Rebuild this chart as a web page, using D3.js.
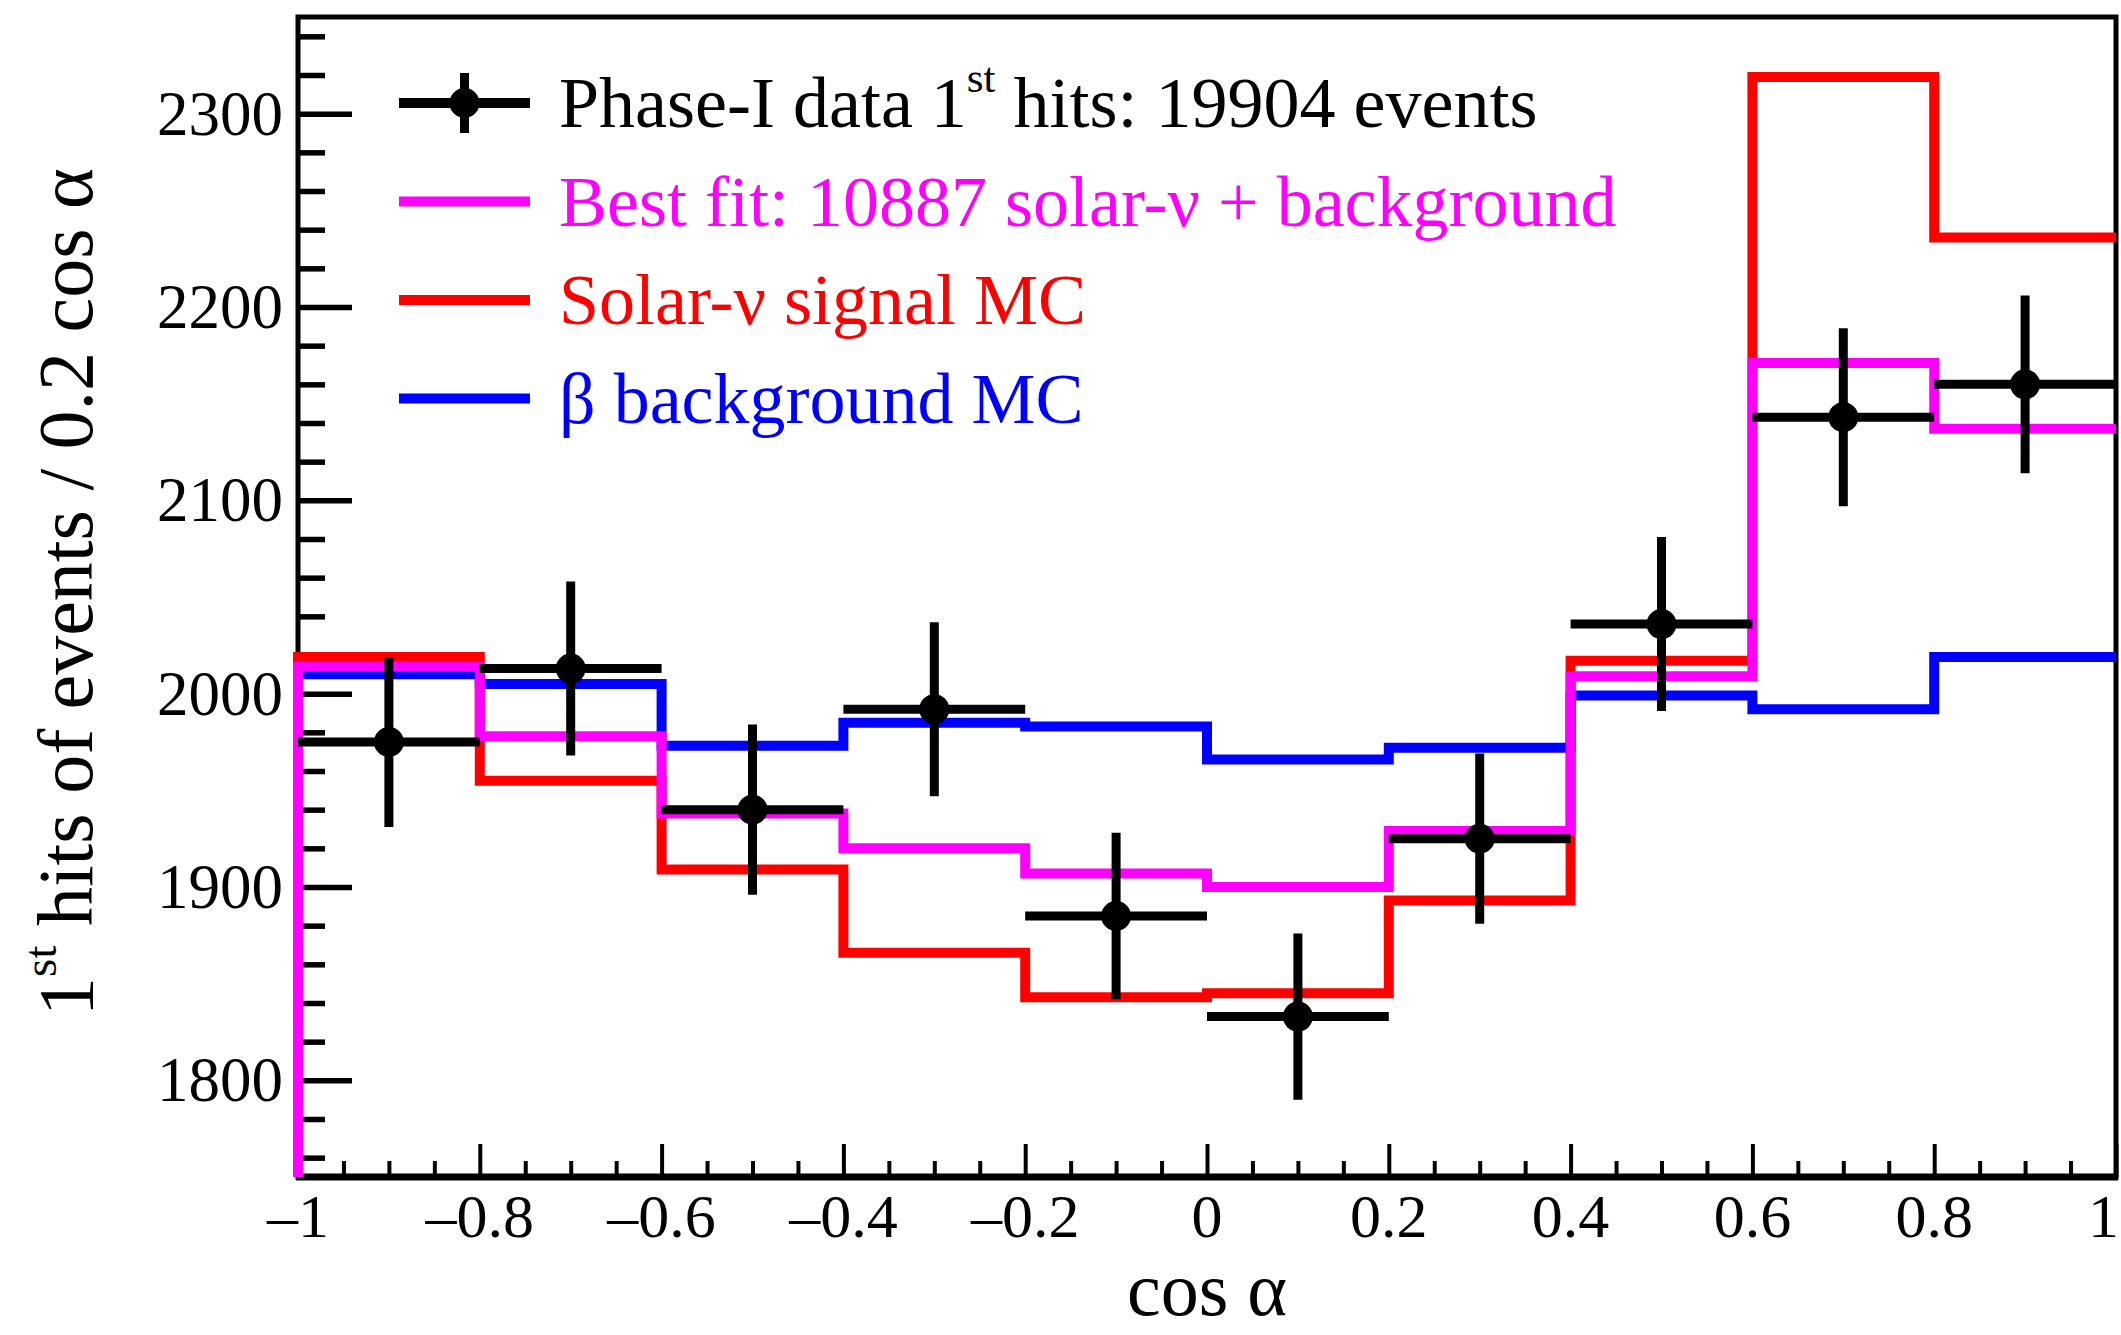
<!DOCTYPE html>
<html><head><meta charset="utf-8">
<script src="https://cdn.jsdelivr.net/npm/d3@7"></script>
<style>body{margin:0;background:#fff;} svg{display:block;} text{white-space:pre;}</style>
</head><body>
<svg id="chart" width="2121" height="1335"></svg>
<script>
// ---------- data ----------
const binEdges = [-1, -0.8, -0.6, -0.4, -0.2, 0, 0.2, 0.4, 0.6, 0.8, 1];
const binCenters = [-0.9, -0.7, -0.5, -0.3, -0.1, 0.1, 0.3, 0.5, 0.7, 0.9];
const dataCounts = [1975, 2013, 1940, 1992, 1885, 1833, 1925, 2036, 2143, 2160];
const dataErrors = [44, 45, 44, 45, 43, 43, 44, 45, 46, 46];
const bestFit = [2014, 1978, 1938, 1920, 1907, 1900, 1929, 2009, 2171, 2137];
const solarSignal = [2019, 1955, 1909, 1866, 1843, 1845, 1893, 2017, 2319, 2236];
const betaBackground = [2010, 2005, 1973, 1985, 1983, 1966, 1972, 1999, 1992, 2019];
const xMajorTicks = [-1, -0.8, -0.6, -0.4, -0.2, 0, 0.2, 0.4, 0.6, 0.8, 1];
const xTickLabels = ["\u20131", "\u20130.8", "\u20130.6", "\u20130.4", "\u20130.2", "0", "0.2", "0.4", "0.6", "0.8", "1"];
const yMajorTicks = [1800, 1900, 2000, 2100, 2200, 2300];
const yTickLabels = ["1800", "1900", "2000", "2100", "2200", "2300"];
const legendLabels = ["Best fit: 10887 solar-\u03bd + background", "Solar-\u03bd signal MC", "\u03b2 background MC"];

// ---------- layout ----------
const W = 2121, H = 1335;
const frame = {left: 298, right: 2116, top: 17, bottom: 1177};
const yDomain = [1750, 2350];
const FONT = "'Liberation Serif', 'Times New Roman', serif";
const colors = {data: "#000000", fit: "#ff00ff", signal: "#ff0000", bkg: "#0000ff"};

const svg = d3.select("#chart");
svg.append("rect").attr("width", W).attr("height", H).attr("fill", "#fff");

const x = d3.scaleLinear().domain([-1, 1]).range([frame.left, frame.right]);
const y = d3.scaleLinear().domain(yDomain).range([frame.bottom, frame.top]);

// ---------- axes ----------
const xMinor = d3.range(-1, 1.0001, 0.05).map(v => +v.toFixed(2)).filter(v => !xMajorTicks.some(t => Math.abs(t - v) < 1e-6));
const yMinor = d3.range(1760, 2341, 20).filter(v => v % 100 !== 0);

const gx = svg.append("g").attr("transform", `translate(0,${frame.bottom})`);
gx.call(d3.axisTop(x).tickValues(xMajorTicks).tickSize(33).tickFormat(""));
gx.append("g").call(d3.axisTop(x).tickValues(xMinor).tickSize(16).tickFormat(""));
gx.selectAll(".domain").remove();
gx.selectAll("line").attr("stroke", "#000").attr("stroke-width", 4);

const gy = svg.append("g").attr("transform", `translate(${frame.left},0)`);
gy.call(d3.axisRight(y).tickValues(yMajorTicks).tickSize(54).tickFormat(""));
gy.append("g").call(d3.axisRight(y).tickValues(yMinor).tickSize(27).tickFormat(""));
gy.selectAll(".domain").remove();
gy.selectAll("line").attr("stroke", "#000").attr("stroke-width", 5.5);

// frame
svg.append("rect")
  .attr("x", frame.left).attr("y", frame.top)
  .attr("width", frame.right - frame.left).attr("height", frame.bottom - frame.top)
  .attr("fill", "none").attr("stroke", "#000").attr("stroke-width", 5);
svg.append("line")
  .attr("x1", frame.left - 2).attr("x2", frame.right + 2)
  .attr("y1", frame.bottom).attr("y2", frame.bottom)
  .attr("stroke", "#000").attr("stroke-width", 7);

// tick labels
svg.append("g").selectAll("text").data(xMajorTicks).join("text")
  .attr("x", (d, i) => i === xMajorTicks.length - 1 ? W - 2 : x(d)).attr("y", 1237)
  .attr("text-anchor", (d, i) => i === xMajorTicks.length - 1 ? "end" : "middle")
  .attr("font-family", FONT).attr("font-size", 62)
  .text((d, i) => xTickLabels[i]);

svg.append("g").selectAll("text").data(yMajorTicks).join("text")
  .attr("x", 283).attr("y", d => y(d) + 21)
  .attr("text-anchor", "end")
  .attr("font-family", FONT).attr("font-size", 63)
  .text((d, i) => yTickLabels[i]);

// axis titles
svg.append("text")
  .attr("x", (frame.left + frame.right) / 2).attr("y", 1315)
  .attr("text-anchor", "middle")
  .attr("font-family", FONT).attr("font-size", 76)
  .text("cos \u03b1");

const yt = svg.append("text")
  .attr("transform", `translate(92,592) rotate(-90)`)
  .attr("text-anchor", "middle")
  .attr("font-family", FONT).attr("font-size", 78);
yt.append("tspan").text("1");
yt.append("tspan").attr("font-size", 47).attr("dy", -36).text("st");
yt.append("tspan").attr("dy", 36).text(" hits of events / 0.2 cos \u03b1");

// ---------- histograms ----------
function histPoints(vals) {
  const pts = [[binEdges[0], yDomain[0]]];
  vals.forEach((v, i) => { pts.push([binEdges[i], v]); pts.push([binEdges[i + 1], v]); });
  return pts;
}
const line = d3.line().x(d => x(d[0])).y(d => y(d[1]));
const plot = svg.append("g");
[[solarSignal, colors.signal], [betaBackground, colors.bkg], [bestFit, colors.fit]].forEach(([vals, c]) => {
  plot.append("path")
    .attr("d", line(histPoints(vals)))
    .attr("fill", "none").attr("stroke", c)
    .attr("stroke-width", 10).attr("stroke-linejoin", "miter").attr("stroke-linecap", "butt");
});

// ---------- data points ----------
const pts = plot.append("g");
binCenters.forEach((cx, i) => {
  pts.append("line")
    .attr("x1", x(binEdges[i])).attr("x2", x(binEdges[i + 1]))
    .attr("y1", y(dataCounts[i])).attr("y2", y(dataCounts[i]))
    .attr("stroke", "#000").attr("stroke-width", 9);
  pts.append("line")
    .attr("x1", x(cx)).attr("x2", x(cx))
    .attr("y1", y(dataCounts[i] - dataErrors[i])).attr("y2", y(dataCounts[i] + dataErrors[i]))
    .attr("stroke", "#000").attr("stroke-width", 9);
  pts.append("circle")
    .attr("cx", x(cx)).attr("cy", y(dataCounts[i])).attr("r", 15)
    .attr("fill", "#000");
});

// ---------- legend ----------
const legRows = [103, 201.5, 300, 398.5];
const legX1 = 399, legX2 = 530, legText = 559;
const lg = svg.append("g").attr("font-family", FONT).attr("font-size", 72);
// data entry
lg.append("line").attr("x1", legX1).attr("x2", legX2).attr("y1", legRows[0]).attr("y2", legRows[0])
  .attr("stroke", "#000").attr("stroke-width", 10);
lg.append("line").attr("x1", (legX1 + legX2) / 2).attr("x2", (legX1 + legX2) / 2)
  .attr("y1", legRows[0] - 30).attr("y2", legRows[0] + 30)
  .attr("stroke", "#000").attr("stroke-width", 9);
lg.append("circle").attr("cx", (legX1 + legX2) / 2).attr("cy", legRows[0]).attr("r", 15).attr("fill", "#000");
const t0 = lg.append("text").attr("x", legText).attr("y", legRows[0] + 24).attr("fill", "#000");
t0.append("tspan").text("Phase-I data 1");
t0.append("tspan").attr("font-size", 43).attr("dy", -35).text("st");
t0.append("tspan").attr("dy", 35).text(" hits: 19904 events");
// histogram entries
[colors.fit, colors.signal, colors.bkg].forEach((c, i) => {
  const yy = legRows[i + 1];
  lg.append("line").attr("x1", legX1).attr("x2", legX2).attr("y1", yy).attr("y2", yy)
    .attr("stroke", c).attr("stroke-width", 10);
  lg.append("text").attr("x", legText).attr("y", yy + 24).attr("fill", c).text(legendLabels[i]);
});
</script>
</body></html>
